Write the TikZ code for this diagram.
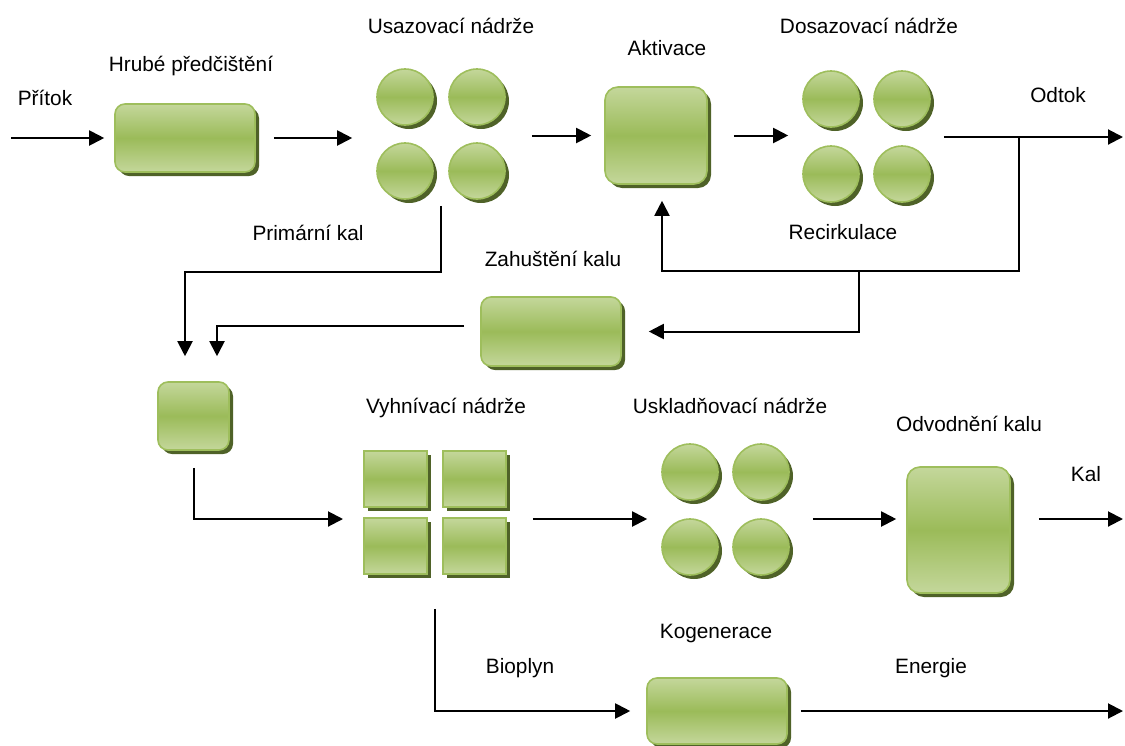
\documentclass[tikz,border=0pt]{standalone}
\usepackage{fontspec}
\setmainfont{Liberation Sans}
\usetikzlibrary{arrows.meta, shadows, calc, positioning}
\definecolor{tankLight}{RGB}{196,215,155}
\definecolor{tankMid}{RGB}{155,187,89}
\definecolor{tankEdge}{RGB}{158,190,92}
\definecolor{tankShadow}{RGB}{79,98,40}
\tikzset{
    tankFill/.style={draw=tankEdge, line width=0.8pt, top color=tankLight, bottom color=tankLight, middle color=tankMid, drop shadow={shadow xshift=2pt, shadow yshift=-2pt, fill=tankShadow, opacity=1}},
    basin/.style={tankFill, rectangle, rounded corners=5pt, inner sep=0pt},
    tank/.style={tankFill, circle, inner sep=0pt, minimum size=28pt},
    digester/.style={tankFill, rectangle, inner sep=0pt, minimum width=31.5pt, minimum height=28pt},
    flow/.style={-{Triangle[length=7.5pt, width=7.5pt]}, line width=1pt},
    lbl/.style={anchor=base, inner sep=0pt, font=\fontsize{10.4}{12}\selectfont},
}
\newcommand{\tankQuad}[6][tank]{
    % four tanks in a 2x2 block
    \node[#1] (#2a) at (#3,#4) {};
    \node[#1] (#2b) at (#3+#5,#4) {};
    \node[#1] (#2c) at (#3,#4+#6) {};
    \node[#1] (#2d) at (#3+#5,#4+#6) {};
}

\begin{document}
\begin{tikzpicture}[x=0.5pt, y=-0.5pt]
        \useasboundingbox (0,0) rectangle (1125,745);

        \node[basin, minimum width=70pt, minimum height=34pt] (hrube) at (185,138) {};
        \tankQuad{u}{405}{97}{72}{74}
        \node[basin, rounded corners=6.5pt, minimum width=51pt, minimum height=48.5pt] (akt) at (656,135.5) {};
        \tankQuad{d}{831}{99}{71}{75}
        \node[basin, minimum width=70pt, minimum height=34.5pt] (zah) at (551,331.5) {};
        \node[basin, minimum width=35.5pt, minimum height=34pt] (mix) at (193.5,416) {};
        \tankQuad[digester]{v}{395.5}{479}{79}{67}
        \tankQuad{k}{690}{472}{71}{75}
        \node[basin, rounded corners=6.5pt, minimum width=51.5pt, minimum height=63pt] (odv) at (958.5,530) {};
        \node[basin, minimum width=70pt, minimum height=33pt] (kog) at (717,711) {};

        \node[lbl] (lPritok) at (45,105) {Přítok};
        \node[lbl] (lHrube) at (191,71) {Hrubé předčištění};
        \node[lbl] (lUsaz) at (451,33) {Usazovací nádrže};
        \node[lbl] (lAkt) at (667,55) {Aktivace};
        \node[lbl] (lDosaz) at (869,33) {Dosazovací nádrže};
        \node[lbl] (lOdtok) at (1058,102) {Odtok};
        \node[lbl] (lPrim) at (308,240) {Primární kal};
        \node[lbl] (lRecirk) at (843,239) {Recirkulace};
        \node[lbl] (lZah) at (553,266) {Zahuštění kalu};
        \node[lbl] (lVyhn) at (446,413) {Vyhnívací nádrže};
        \node[lbl] (lUskl) at (730,413) {Uskladňovací nádrže};
        \node[lbl] (lOdv) at (969,431) {Odvodnění kalu};
        \node[lbl] (lKal) at (1086,481) {Kal};
        \node[lbl] (lKog) at (716,638) {Kogenerace};
        \node[lbl] (lBio) at (520,673) {Bioplyn};
        \node[lbl] (lEnergie) at (931,673) {Energie};

        \coordinate (inflow) at (11,138);
        \coordinate (outflow) at (1123,137);
        \coordinate (recSplit) at (1019,137);
        \coordinate (recBranch) at (859,271);
        \coordinate (vIn) at (343,519);
        \coordinate (sludgeOut) at (1123,519);
        \coordinate (energyOut) at (1123,711);

        % water line
        \draw[flow, shorten >=5pt] (inflow) -- (hrube.west);
        \draw[flow, shorten <=9pt, shorten >=12pt] (hrube.east) -- (hrube.east -| ua.west);
        \draw[flow, shorten <=13pt, shorten >=6.5pt] (ub.east |- akt.west) -- (akt.west);
        \draw[flow, shorten <=13pt, shorten >=7pt] (akt.east) -- (akt.east -| da.west);
        \draw[flow, shorten <=6.5pt] (db.east |- outflow) -- (outflow);
        \draw[flow] (recSplit) |- (recBranch) -| ([xshift=3pt, yshift=-8pt]akt.south);
        \draw[flow] (recBranch) |- ([xshift=13.5pt]zah.east);

        % sludge line
        \draw[flow] ($(uc.south)!.5!(ud.south)+(0,6)$) -- ++(0,66) -| ([xshift=-4.25pt, yshift=12.5pt]mix.north);
        \draw[flow] ([xshift=-8pt, yshift=3pt]zah.west) -| ([xshift=11.75pt, yshift=12.5pt]mix.north);
        \draw[flow] ([yshift=-8.5pt]mix.south) |- (vIn);
        \draw[flow, shorten <=13pt, shorten >=7pt] (vIn -| vb.east) -- (vIn -| ka.west);
        \draw[flow, shorten <=11.5pt, shorten >=5pt] (vIn -| kb.east) -- (vIn -| odv.west);
        \draw[flow, shorten <=14pt] (odv.east |- sludgeOut) -- (sludgeOut);

        % biogas
        \draw[flow] ($(vc.south)!.5!(vd.south)+(0,34)$) |- ([xshift=-8pt]kog.west);
        \draw[flow, shorten <=6.5pt] (kog.east) -- (energyOut);

    \end{tikzpicture}
\end{document}
